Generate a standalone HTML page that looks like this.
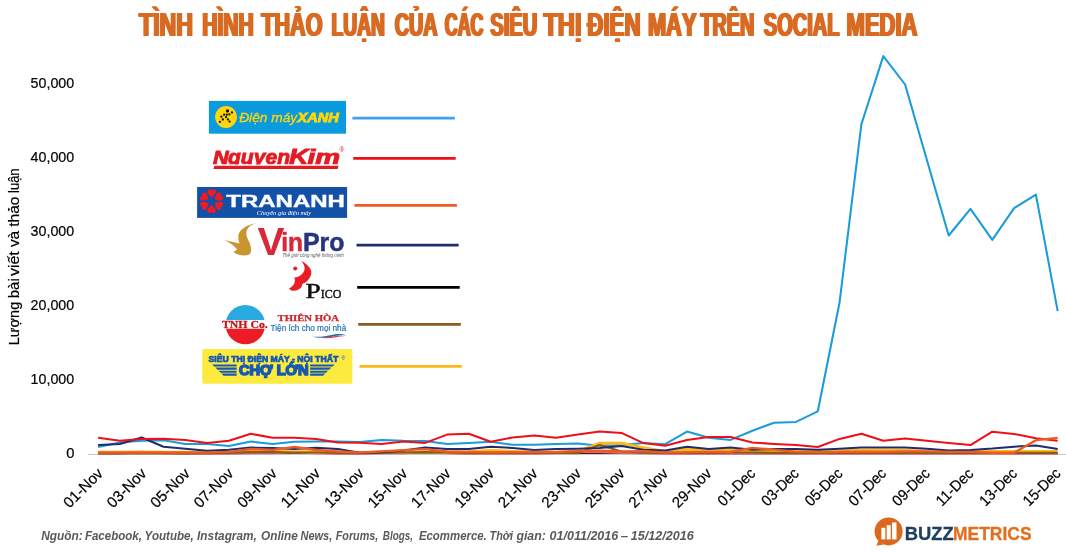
<!DOCTYPE html>
<html lang="vi"><head><meta charset="utf-8"><title>Tình hình thảo luận của các siêu thị điện máy trên Social Media</title>
<style>html,body{margin:0;padding:0;background:#fff}svg{display:block}text{font-family:"Liberation Sans",sans-serif}.sf{font-family:"Liberation Serif",serif}</style></head><body>
<svg width="1066" height="553" viewBox="0 0 1066 553">
<rect width="1066" height="553" fill="#fff"/>
<defs><filter id="fx" x="-2%" y="-30%" width="104%" height="160%"><feOffset in="SourceGraphic" dx="0.75" dy="0" result="a"/><feOffset in="SourceGraphic" dx="1.5" dy="0" result="b"/><feMerge><feMergeNode in="SourceGraphic"/><feMergeNode in="a"/><feMergeNode in="b"/></feMerge></filter></defs>
<g font-weight="bold" font-size="33" fill="#d96a21" filter="url(#fx)">
<text x="138.0" y="35.8" textLength="54.1" lengthAdjust="spacingAndGlyphs">TÌNH</text>
<text x="201.2" y="35.8" textLength="51.5" lengthAdjust="spacingAndGlyphs">HÌNH</text>
<text x="260.3" y="35.8" textLength="61.2" lengthAdjust="spacingAndGlyphs">THẢO</text>
<text x="330.6" y="35.8" textLength="53.3" lengthAdjust="spacingAndGlyphs">LUẬN</text>
<text x="393.7" y="35.8" textLength="42.8" lengthAdjust="spacingAndGlyphs">CỦA</text>
<text x="443.8" y="35.8" textLength="38.6" lengthAdjust="spacingAndGlyphs">CÁC</text>
<text x="489.3" y="35.8" textLength="47.1" lengthAdjust="spacingAndGlyphs">SIÊU</text>
<text x="542.4" y="35.8" textLength="38.1" lengthAdjust="spacingAndGlyphs">THỊ</text>
<text x="586.3" y="35.8" textLength="53.3" lengthAdjust="spacingAndGlyphs">ĐIỆN</text>
<text x="646.9" y="35.8" textLength="48.6" lengthAdjust="spacingAndGlyphs">MÁY</text>
<text x="699.4" y="35.8" textLength="53.9" lengthAdjust="spacingAndGlyphs">TRÊN</text>
<text x="762.8" y="35.8" textLength="75.6" lengthAdjust="spacingAndGlyphs">SOCIAL</text>
<text x="845.6" y="35.8" textLength="70.9" lengthAdjust="spacingAndGlyphs">MEDIA</text>
</g>
<g font-size="15.3" fill="#000" stroke="#000" stroke-width="0.2" text-anchor="end">
<text x="74.4" y="458.0" textLength="8.2" lengthAdjust="spacingAndGlyphs">0</text>
<text x="74.2" y="384.0" textLength="43.6" lengthAdjust="spacingAndGlyphs">10,000</text>
<text x="74.2" y="310.0" textLength="43.6" lengthAdjust="spacingAndGlyphs">20,000</text>
<text x="74.2" y="236.0" textLength="43.6" lengthAdjust="spacingAndGlyphs">30,000</text>
<text x="74.2" y="162.0" textLength="43.6" lengthAdjust="spacingAndGlyphs">40,000</text>
<text x="74.2" y="88.0" textLength="43.6" lengthAdjust="spacingAndGlyphs">50,000</text>
</g>
<g font-size="15.3" fill="#000" stroke="#000" stroke-width="0.2">
<text transform="translate(18.6,345.2) rotate(-90)" textLength="43.4" lengthAdjust="spacingAndGlyphs">Lượng</text>
<text transform="translate(18.6,298.2) rotate(-90)" textLength="19.9" lengthAdjust="spacingAndGlyphs">bài</text>
<text transform="translate(18.6,276.1) rotate(-90)" textLength="24.9" lengthAdjust="spacingAndGlyphs">viết</text>
<text transform="translate(18.6,247.1) rotate(-90)" textLength="16.3" lengthAdjust="spacingAndGlyphs">và</text>
<text transform="translate(18.6,226.8) rotate(-90)" textLength="30.3" lengthAdjust="spacingAndGlyphs">thảo</text>
<text transform="translate(18.6,193.0) rotate(-90)" textLength="24.6" lengthAdjust="spacingAndGlyphs">luận</text>
</g>
<line x1="88" y1="454.5" x2="1066" y2="454.5" stroke="#c8c8c8" stroke-width="1"/>
<polyline points="98.1,447.0 119.9,442.6 141.7,440.8 163.5,440.3 185.3,443.9 207.1,444.0 229.0,445.9 250.8,441.6 272.6,443.9 294.4,441.7 316.2,441.4 338.0,441.6 359.8,442.0 381.6,439.9 403.4,440.8 425.2,440.9 447.1,443.9 468.9,442.9 490.7,441.7 512.5,444.8 534.3,444.8 556.1,443.9 577.9,443.6 599.7,445.7 621.5,445.1 643.4,443.1 665.2,444.2 687.0,431.6 708.8,437.8 730.6,439.9 752.4,430.7 774.2,422.7 796.0,421.9 817.8,411.3 839.6,302.2 861.4,124.2 883.3,56.1 905.1,84.5 926.9,160.0 948.7,235.5 970.5,208.8 992.3,239.9 1014.1,208.1 1035.9,194.6 1057.7,311.1" fill="none" stroke="#1a9bdc" stroke-width="2.05" stroke-linejoin="round" stroke-linecap="butt"/>
<polyline points="98.1,453.5 119.9,453.5 141.7,453.5 163.5,453.5 185.3,453.5 207.1,453.5 229.0,453.5 250.8,453.5 272.6,453.5 294.4,453.5 316.2,453.5 338.0,453.5 359.8,453.5 381.6,453.5 403.4,453.5 425.2,453.5 447.1,453.5 468.9,453.5 490.7,453.5 512.5,453.5 534.3,453.5 556.1,453.5 577.9,453.5 599.7,453.5 621.5,453.5 643.4,453.5 665.2,453.5 687.0,453.5 708.8,453.5 730.6,453.5 752.4,453.5 774.2,453.5 796.0,453.5 817.8,453.5 839.6,453.5 861.4,453.5 883.3,453.5 905.1,453.5 926.9,453.5 948.7,453.5 970.5,453.5 992.3,453.5 1014.1,453.5 1035.9,453.5 1057.7,453.5" fill="none" stroke="#111" stroke-width="1.2" stroke-linejoin="round" stroke-linecap="butt"/>
<polyline points="98.1,453.7 119.9,453.7 141.7,451.8 163.5,453.3 185.3,453.7 207.1,453.7 229.0,453.7 250.8,453.3 272.6,453.3 294.4,452.2 316.2,453.3 338.0,453.7 359.8,453.7 381.6,453.3 403.4,453.2 425.2,452.2 447.1,453.3 468.9,453.7 490.7,453.7 512.5,453.7 534.3,453.7 556.1,453.3 577.9,452.2 599.7,452.2 621.5,452.9 643.4,453.3 665.2,453.7 687.0,453.7 708.8,453.7 730.6,453.7 752.4,453.7 774.2,453.7 796.0,453.7 817.8,453.7 839.6,453.7 861.4,453.7 883.3,453.7 905.1,453.7 926.9,453.7 948.7,453.7 970.5,453.7 992.3,453.7 1014.1,453.7 1035.9,453.7 1057.7,453.7" fill="none" stroke="#d9656a" stroke-width="2.0" stroke-linejoin="round" stroke-linecap="butt"/>
<polyline points="98.1,452.2 119.9,452.2 141.7,452.0 163.5,452.2 185.3,452.2 207.1,452.3 229.0,452.2 250.8,450.6 272.6,451.4 294.4,451.8 316.2,452.2 338.0,452.3 359.8,452.5 381.6,452.0 403.4,452.2 425.2,452.2 447.1,452.2 468.9,451.8 490.7,450.4 512.5,451.4 534.3,452.2 556.1,452.2 577.9,451.4 599.7,443.3 621.5,443.3 643.4,447.6 665.2,451.4 687.0,449.0 708.8,450.2 730.6,449.8 752.4,451.3 774.2,450.7 796.0,450.6 817.8,451.1 839.6,451.1 861.4,450.2 883.3,450.2 905.1,450.2 926.9,451.4 948.7,451.8 970.5,451.8 992.3,451.6 1014.1,451.4 1035.9,451.4 1057.7,451.4" fill="none" stroke="#fdb813" stroke-width="3" stroke-linejoin="round" stroke-linecap="butt"/>
<polyline points="98.1,453.3 119.9,453.3 141.7,453.3 163.5,453.3 185.3,453.3 207.1,453.1 229.0,452.9 250.8,452.2 272.6,452.2 294.4,452.5 316.2,452.5 338.0,452.9 359.8,453.2 381.6,452.9 403.4,452.5 425.2,452.2 447.1,452.5 468.9,452.9 490.7,452.9 512.5,452.9 534.3,452.9 556.1,452.9 577.9,453.2 599.7,445.0 621.5,451.5 643.4,452.7 665.2,452.9 687.0,452.9 708.8,452.9 730.6,452.5 752.4,452.5 774.2,452.9 796.0,452.9 817.8,452.9 839.6,452.9 861.4,452.9 883.3,452.9 905.1,452.9 926.9,452.9 948.7,452.9 970.5,452.9 992.3,452.8 1014.1,452.8 1035.9,452.8 1057.7,452.8" fill="none" stroke="#8c5a1e" stroke-width="2.2" stroke-linejoin="round" stroke-linecap="butt"/>
<polyline points="98.1,445.0 119.9,443.9 141.7,437.5 163.5,446.8 185.3,448.7 207.1,450.8 229.0,449.8 250.8,447.6 272.6,448.1 294.4,449.0 316.2,447.7 338.0,449.0 359.8,452.7 381.6,452.2 403.4,450.4 425.2,447.6 447.1,449.0 468.9,449.0 490.7,446.8 512.5,447.9 534.3,450.0 556.1,449.0 577.9,448.7 599.7,448.1 621.5,446.1 643.4,449.8 665.2,450.6 687.0,446.8 708.8,448.9 730.6,447.6 752.4,449.8 774.2,448.9 796.0,449.0 817.8,449.8 839.6,448.7 861.4,447.4 883.3,447.4 905.1,447.4 926.9,448.7 948.7,450.6 970.5,450.0 992.3,448.6 1014.1,446.7 1035.9,445.5 1057.7,448.9" fill="none" stroke="#1f2d6e" stroke-width="2.05" stroke-linejoin="round" stroke-linecap="butt"/>
<polyline points="98.1,437.8 119.9,440.8 141.7,438.9 163.5,438.7 185.3,440.0 207.1,443.1 229.0,440.8 250.8,433.8 272.6,437.8 294.4,437.8 316.2,438.9 338.0,442.5 359.8,442.7 381.6,443.9 403.4,441.6 425.2,442.9 447.1,434.6 468.9,433.8 490.7,441.7 512.5,437.5 534.3,435.5 556.1,437.8 577.9,434.6 599.7,431.6 621.5,432.9 643.4,443.1 665.2,445.7 687.0,440.0 708.8,436.9 730.6,436.9 752.4,442.5 774.2,443.9 796.0,445.0 817.8,447.0 839.6,438.9 861.4,433.8 883.3,440.8 905.1,438.6 926.9,440.8 948.7,442.9 970.5,445.1 992.3,431.7 1014.1,433.9 1035.9,438.3 1057.7,440.8" fill="none" stroke="#ee1018" stroke-width="2.05" stroke-linejoin="round" stroke-linecap="butt"/>
<polyline points="98.1,452.5 119.9,452.5 141.7,452.5 163.5,452.5 185.3,452.5 207.1,452.7 229.0,451.9 250.8,449.0 272.6,449.8 294.4,447.0 316.2,450.0 338.0,451.5 359.8,452.7 381.6,451.3 403.4,450.2 425.2,449.2 447.1,451.5 468.9,451.8 490.7,452.4 512.5,452.2 534.3,451.9 556.1,452.2 577.9,450.8 599.7,450.6 621.5,451.4 643.4,451.1 665.2,452.7 687.0,452.2 708.8,451.9 730.6,451.9 752.4,447.9 774.2,449.6 796.0,451.9 817.8,452.4 839.6,451.9 861.4,451.6 883.3,451.8 905.1,451.4 926.9,451.4 948.7,451.8 970.5,451.9 992.3,452.8 1014.1,452.8 1035.9,440.2 1057.7,437.8" fill="none" stroke="#f05a22" stroke-width="2.3" stroke-linejoin="round" stroke-linecap="butt"/>
<g font-size="15.3" fill="#000" stroke="#000" stroke-width="0.2" text-anchor="end">
<text transform="translate(103.9,474.3) rotate(-45)" textLength="48.6" lengthAdjust="spacingAndGlyphs">01-Nov</text>
<text transform="translate(147.4,474.3) rotate(-45)" textLength="48.6" lengthAdjust="spacingAndGlyphs">03-Nov</text>
<text transform="translate(190.9,474.3) rotate(-45)" textLength="48.6" lengthAdjust="spacingAndGlyphs">05-Nov</text>
<text transform="translate(234.3,474.3) rotate(-45)" textLength="48.6" lengthAdjust="spacingAndGlyphs">07-Nov</text>
<text transform="translate(277.8,474.3) rotate(-45)" textLength="48.6" lengthAdjust="spacingAndGlyphs">09-Nov</text>
<text transform="translate(321.3,474.3) rotate(-45)" textLength="48.6" lengthAdjust="spacingAndGlyphs">11-Nov</text>
<text transform="translate(364.8,474.3) rotate(-45)" textLength="48.6" lengthAdjust="spacingAndGlyphs">13-Nov</text>
<text transform="translate(408.3,474.3) rotate(-45)" textLength="48.6" lengthAdjust="spacingAndGlyphs">15-Nov</text>
<text transform="translate(451.7,474.3) rotate(-45)" textLength="48.6" lengthAdjust="spacingAndGlyphs">17-Nov</text>
<text transform="translate(495.2,474.3) rotate(-45)" textLength="48.6" lengthAdjust="spacingAndGlyphs">19-Nov</text>
<text transform="translate(538.7,474.3) rotate(-45)" textLength="48.6" lengthAdjust="spacingAndGlyphs">21-Nov</text>
<text transform="translate(582.2,474.3) rotate(-45)" textLength="48.6" lengthAdjust="spacingAndGlyphs">23-Nov</text>
<text transform="translate(625.7,474.3) rotate(-45)" textLength="48.6" lengthAdjust="spacingAndGlyphs">25-Nov</text>
<text transform="translate(669.1,474.3) rotate(-45)" textLength="48.6" lengthAdjust="spacingAndGlyphs">27-Nov</text>
<text transform="translate(712.6,474.3) rotate(-45)" textLength="48.6" lengthAdjust="spacingAndGlyphs">29-Nov</text>
<text transform="translate(756.2,474.5) rotate(-45)" textLength="45.8" lengthAdjust="spacingAndGlyphs">01-Dec</text>
<text transform="translate(799.8,474.5) rotate(-45)" textLength="45.8" lengthAdjust="spacingAndGlyphs">03-Dec</text>
<text transform="translate(843.4,474.5) rotate(-45)" textLength="45.8" lengthAdjust="spacingAndGlyphs">05-Dec</text>
<text transform="translate(887.1,474.5) rotate(-45)" textLength="45.8" lengthAdjust="spacingAndGlyphs">07-Dec</text>
<text transform="translate(930.7,474.5) rotate(-45)" textLength="45.8" lengthAdjust="spacingAndGlyphs">09-Dec</text>
<text transform="translate(974.3,474.5) rotate(-45)" textLength="45.8" lengthAdjust="spacingAndGlyphs">11-Dec</text>
<text transform="translate(1017.9,474.5) rotate(-45)" textLength="45.8" lengthAdjust="spacingAndGlyphs">13-Dec</text>
<text transform="translate(1061.5,474.5) rotate(-45)" textLength="45.8" lengthAdjust="spacingAndGlyphs">15-Dec</text>
</g>
<g font-size="13.6" font-weight="bold" font-style="italic" fill="#595959">
<text x="41.2" y="540.3" textLength="41.6" lengthAdjust="spacingAndGlyphs">Nguồn:</text>
<text x="84.9" y="540.3" textLength="57.0" lengthAdjust="spacingAndGlyphs">Facebook,</text>
<text x="144.6" y="540.3" textLength="49.2" lengthAdjust="spacingAndGlyphs">Youtube,</text>
<text x="197.1" y="540.3" textLength="59.7" lengthAdjust="spacingAndGlyphs">Instagram,</text>
<text x="261.1" y="540.3" textLength="36.8" lengthAdjust="spacingAndGlyphs">Online</text>
<text x="300.5" y="540.3" textLength="31.8" lengthAdjust="spacingAndGlyphs">News,</text>
<text x="335.7" y="540.3" textLength="42.6" lengthAdjust="spacingAndGlyphs">Forums,</text>
<text x="382.8" y="540.3" textLength="30.2" lengthAdjust="spacingAndGlyphs">Blogs,</text>
<text x="418.9" y="540.3" textLength="67.9" lengthAdjust="spacingAndGlyphs">Ecommerce.</text>
<text x="489.5" y="540.3" textLength="23.6" lengthAdjust="spacingAndGlyphs">Thời</text>
<text x="516.4" y="540.3" textLength="29.5" lengthAdjust="spacingAndGlyphs">gian:</text>
<text x="549.6" y="540.3" textLength="68.6" lengthAdjust="spacingAndGlyphs">01/011/2016</text>
<text x="620.7" y="540.3" textLength="7.3" lengthAdjust="spacingAndGlyphs">–</text>
<text x="630.7" y="540.3" textLength="63.0" lengthAdjust="spacingAndGlyphs">15/12/2016</text>
</g>
<line x1="352.4" y1="118.2" x2="454.8" y2="118.2" stroke="#3fa0f0" stroke-width="2.8"/>
<line x1="353.3" y1="158.4" x2="455.7" y2="158.4" stroke="#ee1018" stroke-width="2.8"/>
<line x1="354.5" y1="205.3" x2="456.9" y2="205.3" stroke="#f05a22" stroke-width="2.8"/>
<line x1="356.5" y1="245.2" x2="458.6" y2="245.2" stroke="#1f2d6e" stroke-width="2.8"/>
<line x1="357.2" y1="287.3" x2="459.7" y2="287.3" stroke="#000" stroke-width="2.8"/>
<line x1="358.2" y1="324.3" x2="460.8" y2="324.3" stroke="#8c5a1e" stroke-width="2.8"/>
<line x1="359.5" y1="366.3" x2="461.8" y2="366.3" stroke="#fdb813" stroke-width="2.8"/>
<g id="dmx">
<rect x="208.9" y="100.9" width="137.1" height="32.8" fill="#0a9ade"/>
<circle cx="226" cy="117" r="10.9" fill="#ffd60a"/>
<g fill="#111"><circle cx="232.0" cy="112.4" r="1.15"/><circle cx="229.4" cy="114.4" r="1.15"/><circle cx="226.8" cy="114.7" r="1.15"/><circle cx="224.1" cy="114.7" r="1.15"/><circle cx="221.4" cy="116.7" r="1.15"/><circle cx="226.0" cy="117.1" r="1.15"/><circle cx="222.9" cy="119.5" r="1.15"/><circle cx="220.0" cy="121.8" r="1.15"/><circle cx="227.9" cy="119.4" r="1.15"/><circle cx="229.6" cy="121.6" r="1.15"/><circle cx="227.5" cy="110.9" r="1.7"/></g>
<text x="239.2" y="121.8" font-size="13.6" font-style="italic" fill="#ffd60a" stroke="#ffd60a" stroke-width="0.3" textLength="58" lengthAdjust="spacingAndGlyphs">Điện máy</text>
<text x="297.6" y="121.8" font-size="13.6" font-style="italic" font-weight="bold" fill="#ffd60a" stroke="#ffd60a" stroke-width="0.9" textLength="41.2" lengthAdjust="spacingAndGlyphs">XANH</text>
</g>
<g id="nk" fill="#e31b23" stroke="#e31b23" stroke-width="0.9" font-weight="bold" font-style="italic">
<clipPath id="nkc"><rect x="205" y="140" width="150" height="24.5"/></clipPath>
<g clip-path="url(#nkc)">
<text x="213" y="163.9" font-size="18" textLength="15.6" lengthAdjust="spacingAndGlyphs">N</text>
<text x="228" y="163.9" font-size="19.5" textLength="62" lengthAdjust="spacingAndGlyphs">guyen</text>
<text x="289" y="163.9" font-size="22" textLength="19.5" lengthAdjust="spacingAndGlyphs">K</text>
<text x="307.5" y="163.9" font-size="19.5" textLength="32.5" lengthAdjust="spacingAndGlyphs">im</text>
</g>
<path d="M214.4 165.7 H338.6 L337.6 168.9 H213.4 Z" stroke="none"/>
<text x="339.4" y="152.2" font-size="6.4" font-style="normal" font-weight="normal" stroke="none">®</text>
</g>
<g id="ta">
<rect x="197.1" y="187" width="150" height="30.9" fill="#1350a8"/>
<g transform="translate(211.6,201.2)" fill="#ed1c24">
<path transform="rotate(0)" d="M0 -3.4 L3.3 -7.0 C4.8 -8.8 4.6 -11.2 2.8 -11.8 C1.6 -12.2 0.5 -11.6 0 -10.6 C-0.5 -11.6 -1.6 -12.2 -2.8 -11.8 C-4.6 -11.2 -4.8 -8.8 -3.3 -7.0 Z"/>
<path transform="rotate(60)" d="M0 -3.4 L3.3 -7.0 C4.8 -8.8 4.6 -11.2 2.8 -11.8 C1.6 -12.2 0.5 -11.6 0 -10.6 C-0.5 -11.6 -1.6 -12.2 -2.8 -11.8 C-4.6 -11.2 -4.8 -8.8 -3.3 -7.0 Z"/>
<path transform="rotate(120)" d="M0 -3.4 L3.3 -7.0 C4.8 -8.8 4.6 -11.2 2.8 -11.8 C1.6 -12.2 0.5 -11.6 0 -10.6 C-0.5 -11.6 -1.6 -12.2 -2.8 -11.8 C-4.6 -11.2 -4.8 -8.8 -3.3 -7.0 Z"/>
<path transform="rotate(180)" d="M0 -3.4 L3.3 -7.0 C4.8 -8.8 4.6 -11.2 2.8 -11.8 C1.6 -12.2 0.5 -11.6 0 -10.6 C-0.5 -11.6 -1.6 -12.2 -2.8 -11.8 C-4.6 -11.2 -4.8 -8.8 -3.3 -7.0 Z"/>
<path transform="rotate(240)" d="M0 -3.4 L3.3 -7.0 C4.8 -8.8 4.6 -11.2 2.8 -11.8 C1.6 -12.2 0.5 -11.6 0 -10.6 C-0.5 -11.6 -1.6 -12.2 -2.8 -11.8 C-4.6 -11.2 -4.8 -8.8 -3.3 -7.0 Z"/>
<path transform="rotate(300)" d="M0 -3.4 L3.3 -7.0 C4.8 -8.8 4.6 -11.2 2.8 -11.8 C1.6 -12.2 0.5 -11.6 0 -10.6 C-0.5 -11.6 -1.6 -12.2 -2.8 -11.8 C-4.6 -11.2 -4.8 -8.8 -3.3 -7.0 Z"/>
</g>
<text x="226.3" y="207.4" font-size="17.4" font-weight="bold" fill="#fff" stroke="#fff" stroke-width="0.4" textLength="118.6" lengthAdjust="spacingAndGlyphs">TRANANH</text>
<text class="sf" x="256.7" y="214.8" font-size="5.6" font-style="italic" fill="#fff" textLength="54.5" lengthAdjust="spacingAndGlyphs">Chuyên gia điện máy</text>
</g>
<g id="vp">
<path fill="#c8952f" d="M256.3 223.1 C252.5 223.6 250 224.6 248 225.5 C244.5 227.2 241.8 229.2 240.5 230.8 C238.8 233 238.2 235 238.3 236.8 C238.3 239.5 238.8 241.5 239.4 243.5 C237 242.9 235 242.5 233 242 C230 241.3 227 240.5 224.4 239.9 C227.2 241.2 229.5 242.6 231.5 244.3 C233.8 246 235.8 247.8 237.1 249.5 C236 250.6 234.8 251.2 233.4 251.5 C235 253.3 237 254.4 239 254.8 C242 255.6 245.5 255.8 248 255.1 C249.8 254.5 250.8 253 251 251 C251.3 248 250.6 245.2 249.5 242.8 C248.2 240 246.9 237.6 246.5 235.3 C246.1 233 246.4 231 247.3 229.3 C248.3 227.5 249.8 226.2 251.8 225.1 C253.2 224.3 254.7 223.6 256.3 223.1 Z"/>
<text x="257.6" y="255" font-size="38.5" font-weight="bold" fill="#d9283a" textLength="27" lengthAdjust="spacingAndGlyphs">V</text>
<text x="281.2" y="250.5" font-size="25" font-weight="bold" fill="#d9283a" stroke="#d9283a" stroke-width="0.5" textLength="21.8" lengthAdjust="spacingAndGlyphs">in</text>
<text x="303" y="250.5" font-size="25" font-weight="bold" fill="#27357e" stroke="#27357e" stroke-width="0.5" textLength="41.5" lengthAdjust="spacingAndGlyphs">Pro</text>
<text x="282.4" y="257" font-size="4.8" font-style="italic" fill="#555" textLength="61.4" lengthAdjust="spacingAndGlyphs">Thế giới công nghệ thông minh</text>
</g>
<g id="pico">
<path fill="#ec1c24" d="M301 261.1 C303.5 262 305.6 263.3 307.1 264.9 C309.3 267 310.9 269 311.2 271.3 C311.5 273.6 311 275.8 309.8 277.6 C308.8 279.4 307.6 281 306.2 282.1 C305 283 303.6 283.2 302.6 283.9 C301.8 284.6 302 285.6 301.7 286.6 C301 288 299.7 289.1 298.1 289.8 C296.4 290.6 294.5 291 292.7 290.7 C291.2 290.4 290 289.6 289 288.5 C291 287.6 292.5 286.3 293.6 284.8 C294.5 283.4 294.9 281.8 294.9 280.3 C294.9 279.4 294.3 278.5 294.5 277.6 C296.5 277.4 298.4 276.8 299.9 275.8 C301.8 274.7 303.2 273.2 304 271.3 C304.8 269.5 304.8 267.6 304.2 265.8 C303.6 264 302.5 262.4 301 261.1 Z"/>
<circle cx="295.2" cy="268.4" r="2" fill="#ec1c24"/>
<text class="sf" x="305.6" y="298.2" font-size="21.2" fill="#111" stroke="#111" stroke-width="0.5" textLength="15.2" lengthAdjust="spacingAndGlyphs">P</text>
<text class="sf" x="320.8" y="298.2" font-size="13" fill="#111" stroke="#111" stroke-width="0.45" textLength="20.6" lengthAdjust="spacingAndGlyphs">ICO</text>
</g>
<g id="th">
<clipPath id="thc"><circle cx="245.35" cy="324.65" r="19.7"/></clipPath>
<g clip-path="url(#thc)"><rect x="225" y="304" width="41" height="16.1" fill="#29abe2"/><rect x="225" y="328.75" width="41" height="17" fill="#ed1c24"/></g>
<text class="sf" x="222" y="328.3" font-size="10.6" font-weight="bold" fill="#c8161d" stroke="#c8161d" stroke-width="0.3" textLength="45.8" lengthAdjust="spacingAndGlyphs">TNH Co.</text>
<text class="sf" x="277.6" y="321.3" font-size="8.7" font-weight="bold" fill="#d2232a" stroke="#d2232a" stroke-width="0.25" textLength="61.5" lengthAdjust="spacingAndGlyphs">THIÊN HÒA</text>
<text x="270.6" y="331.3" font-size="8.8" fill="#1d71b8" stroke="#1d71b8" stroke-width="0.2" textLength="75.6" lengthAdjust="spacingAndGlyphs">Tiện ích cho mọi nhà</text>
<path d="M312 336.6 C320 337.6 328 335.6 334 334.4 C339 333.6 343 334 346.2 335.4 C342 335 338 335.4 334 336.2 C327 337.8 319 338.6 312 336.6 Z" fill="#1d71b8"/>
<path d="M318 337.6 C325 338 331 336.8 336 336 C340 335.4 343 335.6 345.5 336.4 C342 336.2 339 336.6 336 337.2 C330 338.4 324 338.8 318 337.6 Z" fill="#e2383f"/>
</g>
<g id="cl">
<rect x="202.3" y="348.9" width="150.1" height="34.8" rx="1.6" fill="#fdea3e"/>
<g fill="#1559b3" stroke="#1559b3" font-weight="bold">
<text x="208.6" y="361.9" font-size="8.2" stroke-width="0.7" textLength="129.6" lengthAdjust="spacingAndGlyphs">SIÊU THỊ ĐIỆN MÁY - NỘI THẤT</text>
<text x="341.4" y="360" font-size="5" stroke="none" font-weight="normal">®</text>
<text x="239" y="375.1" font-size="14.8" stroke-width="1.6" textLength="69.6" lengthAdjust="spacingAndGlyphs">CHỢ LỚN</text>
</g>
<g fill="#1559b3">
<path d="M212.0 364.4 H236.6 V366.4 H214.2 Z"/>
<path d="M334.7 364.4 H310.1 V366.4 H332.5 Z"/>
<path d="M215.4 367.5 H236.6 V369.8 H217.6 Z"/>
<path d="M331.3 367.5 H310.1 V369.8 H329.1 Z"/>
<path d="M218.6 370.7 H236.6 V372.7 H220.8 Z"/>
<path d="M328.1 370.7 H310.1 V372.7 H325.9 Z"/>
<path d="M221.4 373.6 H236.6 V375.7 H223.6 Z"/>
<path d="M325.3 373.6 H310.1 V375.7 H323.1 Z"/>
</g>
</g>
<g id="bz">
<circle cx="888.6" cy="531.4" r="14" fill="#d9691f"/>
<path d="M878.5 540.5 L876.3 545.7 L883.5 544.6 Z" fill="#d9691f"/>
<rect x="881.4" y="527.8" width="3.9" height="11.6" fill="#fff"/><rect x="886.7" y="525.2" width="4" height="14.2" fill="#fff"/><rect x="892.1" y="522.5" width="4.4" height="16.9" fill="#fff"/>
<text x="904.8" y="539.8" font-size="17.6" font-weight="bold" fill="#1f3f5f" stroke="#1f3f5f" stroke-width="0.3" textLength="49" lengthAdjust="spacingAndGlyphs">BUZZ</text>
<text x="953" y="539.8" font-size="17.6" font-weight="bold" fill="#e07020" stroke="#e07020" stroke-width="0.3" textLength="78.6" lengthAdjust="spacingAndGlyphs">METRICS</text>
</g>
</svg></body></html>
